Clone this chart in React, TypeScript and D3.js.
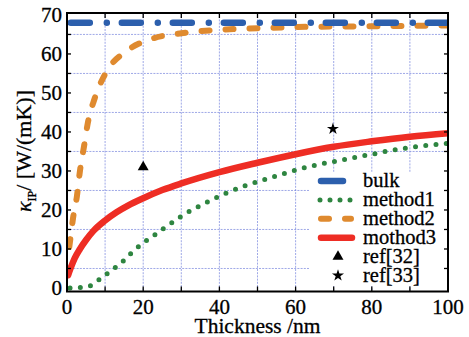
import React from 'react';
import * as d3 from 'd3';

// thickness (nm) and kappa values
const bulkX = [1, 100];
const bulkY = [68, 68];

const method1X = [0.8, 3.4, 6.2, 8.8, 11.5, 14.2, 16.8, 19.6, 22.3, 25.1, 27.8, 30.5, 35.8, 41.3, 46.7, 52.2, 57.5, 63, 71, 79, 87.1, 97.9, 100];
const method1Y = [0, 0.1, 0.6, 2.4, 4.4, 6.4, 8.9, 11.3, 13.1, 15.1, 16.9, 18.7, 21.5, 24.1, 26.2, 27.9, 29.5, 31, 32.6, 34.1, 35.6, 36.9, 37.1];

const method2X = [0.6, 1, 1.6, 2.6, 3.4, 4.5, 5.5, 7.3, 10.2, 15.7, 22, 30, 40, 50, 60, 80, 100];
const method2Y = [10.5, 13.5, 18, 23.5, 30, 36.5, 42.5, 48.7, 55.2, 60.8, 63.8, 65.3, 66.2, 66.6, 66.9, 67.1, 67.3];

const method3X = [0.3, 1, 2, 3.4, 5, 7, 10, 13, 16, 20, 25, 30, 40, 50, 60, 70, 80, 90, 100];
const method3Y = [3.3, 5.2, 7.6, 10, 12.3, 14.7, 17.3, 19.4, 21.1, 23, 25.1, 26.8, 29.7, 32.1, 34.3, 36.2, 37.6, 38.8, 39.7];

const ref32 = { x: 20, y: 31 };
const ref33 = { x: 69.8, y: 40.8 };

const xTicks = [0, 20, 40, 60, 80, 100];
const yTicks = [0, 10, 20, 30, 40, 50, 60, 70];
const xGrid = [10, 20, 30, 40, 50, 60, 70, 80, 90];
const yGrid = [5, 15, 25, 35, 45, 55, 65];
const xMinor = [10, 20, 30, 40, 50, 60, 70, 80, 90];
const yMinor = [5, 10, 15, 20, 25, 30, 35, 40, 45, 50, 55, 60, 65];

const legendNames = ['bulk', 'method1', 'method2', 'mothod3', 'ref[32]', 'ref[33]'];

const BLUE = '#2c5fad';
const GREEN = '#2e8540';
const ORANGE = '#df8a2f';
const RED = '#ee2d24';
const GRID = '#5566d6';
const SERIF = 'Liberation Serif';

const W = 469;
const H = 337;
const plot = { left: 67, right: 448, top: 13, bottom: 291.5 };

// text helper, font set on every element
const Label = ({ x, y, size, anchor, children, transform }: any) => (
    <text
        x={x}
        y={y}
        transform={transform}
        fontSize={size}
        textAnchor={anchor || 'start'}
        fontFamily={SERIF}
        style={{ fontFamily: `"${SERIF}"` }}
        fill="#000"
        stroke="#000"
        strokeWidth={0.3}
    >
        {children}
    </text>
);

const App = () => {
    const x = d3.scaleLinear().domain([0, 100]).range([plot.left, plot.right]);
    const y = d3.scaleLinear().domain([-0.9, 70.5]).range([plot.bottom, plot.top]);

    const makePath = (xs: number[], ys: number[]) => {
        const pts: [number, number][] = xs.map((v, i) => [v, ys[i]]);
        return d3.line<[number, number]>()
            .x((d) => x(d[0]))
            .y((d) => y(d[1]))
            .curve(d3.curveMonotoneX)(pts) || '';
    };

    const tri = d3.symbol().type(d3.symbolTriangle).size(52)() || '';
    const star = d3.symbol().type(d3.symbolStar).size(45)() || '';

    // legend layout
    const legX = 321;
    const legX2 = 351;
    const legText = 363;
    const legRow0 = 181;
    const legStep = 18.9;

    return (
        <svg width={W} height={H} style={{ position: 'absolute', left: 0, top: 0, background: '#fff', fontFamily: `"${SERIF}"` }}>
            <defs>
                <clipPath id="plot-clip">
                    <rect x={plot.left} y={plot.top} width={plot.right - plot.left} height={plot.bottom - plot.top} />
                </clipPath>
            </defs>

            {/* grid */}
            <g stroke={GRID} strokeWidth={0.7} strokeDasharray="2,1.2" opacity={0.8}>
                {xGrid.map((v) => (
                    <line key={`gx${v}`} x1={x(v)} x2={x(v)} y1={plot.top} y2={plot.bottom} />
                ))}
                {yGrid.map((v) => (
                    <line key={`gy${v}`} x1={plot.left} x2={plot.right} y1={y(v)} y2={y(v)} />
                ))}
            </g>

            {/* curves */}
            <g clipPath="url(#plot-clip)" fill="none" strokeLinecap="round">
                <path d={makePath(method2X, method2Y)} stroke={ORANGE} strokeWidth={6} strokeDasharray="8,16" />
                <path d={makePath(bulkX, bulkY)} stroke={BLUE} strokeWidth={6.5} strokeDasharray="19,17,0,15" />
                <path d={makePath(method1X, method1Y)} stroke={GREEN} strokeWidth={5} strokeDasharray="0,10.3" />
                <path d={makePath(method3X, method3Y)} stroke={RED} strokeWidth={6.5} />
            </g>

            {/* reference points */}
            <path d={tri} transform={`translate(${x(ref32.x)},${y(ref32.y)})`} fill="#000" />
            <path d={star} transform={`translate(${x(ref33.x)},${y(ref33.y)})`} fill="#000" />

            {/* legend */}
            <rect x={310} y={172} width={136} height={114} fill="#fff" />
            <g fill="none" strokeLinecap="round">
                <line x1={legX} x2={legX2 - 8} y1={legRow0} y2={legRow0} stroke={BLUE} strokeWidth={6.5} />
                <line x1={legX - 1} x2={legX2 + 1} y1={legRow0 + legStep} y2={legRow0 + legStep} stroke={GREEN} strokeWidth={5} strokeDasharray="0,10" />
                <line x1={legX} x2={legX2} y1={legRow0 + legStep * 2} y2={legRow0 + legStep * 2} stroke={ORANGE} strokeWidth={6} strokeDasharray="8,16" />
                <line x1={legX} x2={legX2 + 1} y1={legRow0 + legStep * 3} y2={legRow0 + legStep * 3} stroke={RED} strokeWidth={6.5} />
            </g>
            <path d={tri} transform={`translate(338,${legRow0 + legStep * 4})`} fill="#000" />
            <path d={star} transform={`translate(338,${legRow0 + legStep * 5})`} fill="#000" />
            {legendNames.map((n, i) => (
                <Label key={n} x={legText} y={legRow0 + legStep * i + 6} size={20.5}>{n}</Label>
            ))}

            {/* frame and ticks */}
            <g stroke="#000" strokeWidth={1.3}>
                {xMinor.map((v) => (
                    <g key={`tx${v}`}>
                        <line x1={x(v)} x2={x(v)} y1={plot.bottom} y2={plot.bottom - 5} />
                        <line x1={x(v)} x2={x(v)} y1={plot.top} y2={plot.top + 5} />
                    </g>
                ))}
                {yMinor.map((v) => (
                    <g key={`ty${v}`}>
                        <line x1={plot.left} x2={plot.left + 4} y1={y(v)} y2={y(v)} />
                        <line x1={plot.right} x2={plot.right - 4} y1={y(v)} y2={y(v)} />
                    </g>
                ))}
            </g>
            <rect
                x={plot.left}
                y={plot.top}
                width={plot.right - plot.left}
                height={plot.bottom - plot.top}
                fill="none"
                stroke="#000"
                strokeWidth={2}
            />

            {/* tick labels */}
            {xTicks.map((v) => (
                <Label key={`lx${v}`} x={x(v)} y={314} size={21} anchor="middle">{v}</Label>
            ))}
            {yTicks.map((v) => (
                <Label key={`ly${v}`} x={62} y={y(v) + 7} size={21} anchor="end">{v}</Label>
            ))}

            {/* axis titles */}
            <Label x={(plot.left + plot.right) / 2} y={333} size={21.5} anchor="middle">Thickness /nm</Label>
            <Label transform="translate(31,151) rotate(-90)" x={0} y={0} size={22} anchor="middle">
                <tspan fontStyle="italic">κ</tspan>
                <tspan fontSize={12} dy={5}>IP</tspan>
                <tspan dy={-5}>/ [W/(mK)]</tspan>
            </Label>
        </svg>
    );
};

export default App;
